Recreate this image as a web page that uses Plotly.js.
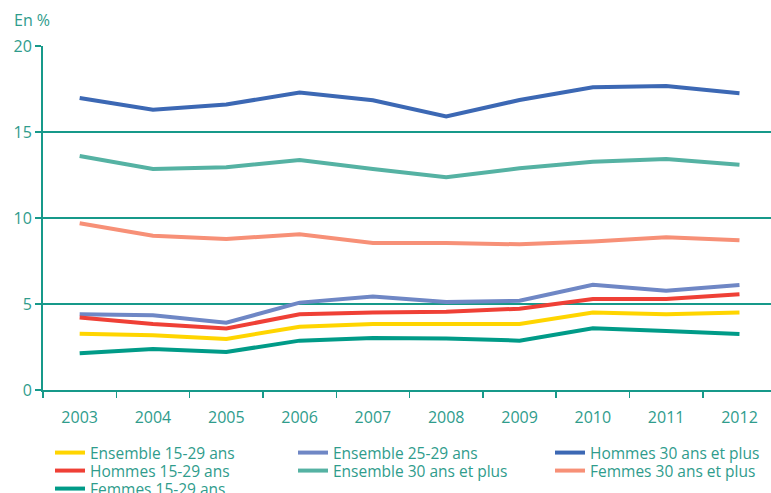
<!DOCTYPE html>
<html><head><meta charset="utf-8">
<script src="https://cdn.plot.ly/plotly-3.0.1.min.js"></script>
<style>html,body{margin:0;padding:0;background:#fff;overflow:hidden}#chart{width:771px;height:493px}</style>
</head><body><div id="chart"></div>
<script>
const years = ["2003","2004","2005","2006","2007","2008","2009","2010","2011","2012"];
const ensemble1529 = [3.27,3.18,2.97,3.68,3.84,3.84,3.84,4.50,4.40,4.50];
const ensemble2529 = [4.40,4.34,3.91,5.08,5.43,5.12,5.19,6.12,5.77,6.10];
const hommes30 = [16.98,16.30,16.60,17.30,16.85,15.90,16.86,17.60,17.67,17.25];
const hommes1529 = [4.22,3.84,3.58,4.40,4.50,4.55,4.73,5.29,5.29,5.56];
const ensemble30 = [13.60,12.85,12.95,13.37,12.85,12.37,12.89,13.27,13.43,13.10];
const femmes30 = [9.69,8.97,8.78,9.05,8.55,8.55,8.47,8.64,8.88,8.70];
const femmes1529 = [2.13,2.38,2.21,2.87,3.02,3.00,2.87,3.59,3.43,3.26];
const yTicks = [0,5,10,15,20];

const W = 771, H = 493;
const txt = "#2f9c8c", axc = "#17998a";
const font = {family:"Open Sans, sans-serif", size:15.5, color:txt};
const tickFont = {family:"Open Sans, sans-serif", size:16, color:txt};

// legend placement: [legend id, left px, top px]
const legendSlots = [
  ["legend", 50, 436], ["legend2", 293, 436], ["legend3", 550, 436],
  ["legend4", 50, 454], ["legend5", 293, 454], ["legend6", 550, 454],
  ["legend7", 50, 472]
];
function tr(name, y, color, lg){return {x:years, y:y, name:name, type:"scatter", mode:"lines", line:{color:color, width:4}, legend:lg};}
const data = [
  tr("Ensemble 15-29 ans", ensemble1529, "#ffd500", "legend"),
  tr("Ensemble 25-29 ans", ensemble2529, "#6f87c5", "legend2"),
  tr("Hommes 30 ans et plus", hommes30, "#3c68b4", "legend3"),
  tr("Hommes 15-29 ans", hommes1529, "#ef4036", "legend4"),
  tr("Ensemble 30 ans et plus", ensemble30, "#55b2a3", "legend5"),
  tr("Femmes 30 ans et plus", femmes30, "#f79077", "legend6"),
  tr("Femmes 15-29 ans", femmes1529, "#009b88", "legend7")
];
const layout = {
  width:W, height:H,
  margin:{l:43, r:0, t:46, b:103},
  paper_bgcolor:"#fff", plot_bgcolor:"#fff",
  font:font,
  showlegend:true,
  xaxis:{type:"category", range:[-0.5, 9.43], tickmode:"array", tickvals:years, ticktext:years,
    showgrid:false, zeroline:false, showline:true, linecolor:axc, linewidth:2,
    ticks:"outside", tickson:"boundaries", ticklen:6, tickcolor:axc, tickwidth:1.5,
    ticklabelstandoff:12, tickfont:tickFont, fixedrange:true},
  yaxis:{range:[0,20], tickmode:"array", tickvals:yTicks, ticktext:yTicks.map(String),
    showgrid:true, gridcolor:axc, gridwidth:1.5, zeroline:false, showline:true, linecolor:axc, linewidth:2,
    ticks:"outside", ticklen:6, tickcolor:axc, tickwidth:1.5, tickfont:tickFont, fixedrange:true},
  annotations:[{text:"En %", xref:"paper", yref:"paper", x:-0.043, y:1.075, xanchor:"left", yanchor:"middle",
    showarrow:false, font:tickFont}]
};
legendSlots.forEach(([id, left, top]) => {
  layout[id] = {orientation:"h", xref:"container", yref:"container", x:left/W, xanchor:"left",
    y:(H-top)/H, yanchor:"top", font:font, bgcolor:"rgba(0,0,0,0)", borderwidth:0};
});
Plotly.newPlot("chart", data, layout, {displayModeBar:false, staticPlot:true});
</script></body></html>
